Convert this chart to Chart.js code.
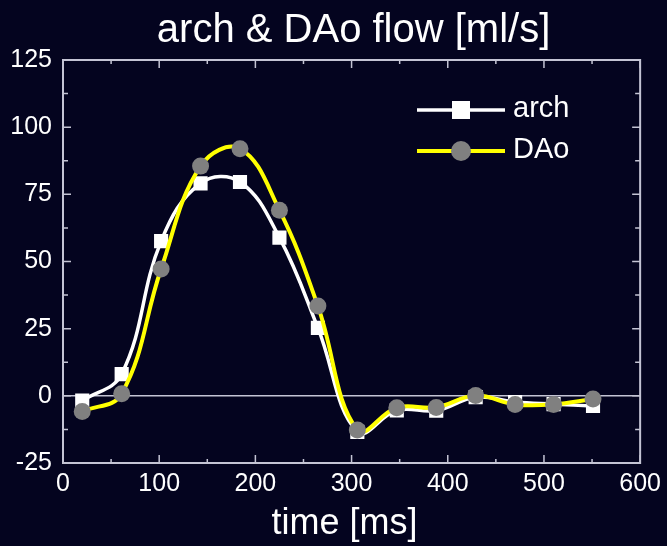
<!DOCTYPE html>
<html>
<head>
<meta charset="utf-8">
<script src="https://cdn.jsdelivr.net/npm/chart.js@4.4.1/dist/chart.umd.min.js"></script>
<style>
  html, body { margin: 0; padding: 0; background: #04041f; }
  #wrap { width: 667px; height: 546px; }
</style>
</head>
<body>
<div id="wrap"><canvas id="myChart" width="667" height="546"></canvas></div>
<script>
// time points [ms]
const times = [20, 61, 102, 143, 184, 225, 265, 306, 347, 388, 429, 470, 510, 551];
// flow [ml/s]
const archFlow = [-1.8, 8.1, 57.6, 79.1, 79.6, 58.9, 25.3, -13.4, -5.4, -5.5, -0.5, -2.3, -3.1, -3.8];
const daoFlow  = [-5.8, 0.8, 47.2, 85.5, 92.0, 69.1, 33.4, -12.7, -4.4, -4.3, 0.1, -3.2, -3.2, -1.2];
const xTicks = [0, 100, 200, 300, 400, 500, 600];
const yTicks = [-25, 0, 25, 50, 75, 100, 125];
const chartTitle = 'arch & DAo flow [ml/s]';
const xTitle = 'time [ms]';

const fontFamily = "'Liberation Sans', Arial, sans-serif";
const axisColor = '#c4c4d4';

const toPoints = (ys) => times.map((t, i) => ({ x: t, y: ys[i] }));

const bgPlugin = {
  id: 'bg',
  beforeDraw(chart) {
    const ctx = chart.ctx;
    ctx.save();
    ctx.fillStyle = '#04041f';
    ctx.fillRect(0, 0, chart.width, chart.height);
    ctx.restore();
  }
};

// frame, inward ticks (mirrored), zero line and the titles
const framePlugin = {
  id: 'frame',
  beforeDatasetsDraw(chart) {
    const { ctx, chartArea: a, scales: { x, y } } = chart;
    ctx.save();
    ctx.strokeStyle = axisColor;
    ctx.lineWidth = 1.5;
    const y0 = y.getPixelForValue(0);
    ctx.beginPath();
    ctx.moveTo(a.left, y0);
    ctx.lineTo(a.right, y0);
    ctx.stroke();

    ctx.lineWidth = 2;
    ctx.strokeRect(a.left, a.top, a.right - a.left, a.bottom - a.top);
    ctx.lineWidth = 1.5;
    for (let v = 0; v <= 600; v += 50) {
      const px = x.getPixelForValue(v);
      const len = v % 100 === 0 ? 8 : 4;
      ctx.beginPath();
      ctx.moveTo(px, a.bottom); ctx.lineTo(px, a.bottom - len);
      ctx.moveTo(px, a.top); ctx.lineTo(px, a.top + len);
      ctx.stroke();
    }
    for (let v = -25; v <= 125; v += 12.5) {
      const py = y.getPixelForValue(v);
      const len = v % 25 === 0 ? 8 : 5;
      ctx.beginPath();
      ctx.moveTo(a.left, py); ctx.lineTo(a.left + len, py);
      ctx.moveTo(a.right, py); ctx.lineTo(a.right - len, py);
      ctx.stroke();
    }

    ctx.fillStyle = '#ffffff';
    ctx.textAlign = 'center';
    ctx.textBaseline = 'middle';
    ctx.font = '40px ' + fontFamily;
    ctx.fillText(chartTitle, (a.left + a.right) / 2 + 2, 31);
    ctx.font = '36px ' + fontFamily;
    ctx.fillText(xTitle, (a.left + a.right) / 2 - 7, 524);
    ctx.restore();
  }
};

// legend in the Origin style: line with a marker in the middle
const legendPlugin = {
  id: 'originLegend',
  afterDatasetsDraw(chart) {
    const ctx = chart.ctx;
    const items = [
      { label: 'arch', color: '#ffffff', lw: 3.5, y: 110, marker: 'rect', fill: '#ffffff' },
      { label: 'DAo', color: '#ffff00', lw: 4, y: 151, marker: 'circle', fill: '#808080' }
    ];
    ctx.save();
    items.forEach((it) => {
      ctx.strokeStyle = it.color;
      ctx.lineWidth = it.lw;
      ctx.beginPath();
      ctx.moveTo(417, it.y);
      ctx.lineTo(505, it.y);
      ctx.stroke();
      ctx.fillStyle = it.fill;
      if (it.marker === 'rect') {
        ctx.fillRect(452, it.y - 9, 18, 18);
      } else {
        ctx.beginPath();
        ctx.arc(461, it.y, 10, 0, Math.PI * 2);
        ctx.fill();
      }
      ctx.fillStyle = '#ffffff';
      ctx.font = '29px ' + fontFamily;
      ctx.textBaseline = 'middle';
      ctx.textAlign = 'left';
      ctx.fillText(it.label, 513, it.y - 1);
    });
    ctx.restore();
  }
};

const config = {
  type: 'line',
  data: {
    datasets: [
      {
        label: 'arch',
        data: toPoints(archFlow),
        borderColor: '#ffffff',
        borderWidth: 3.5,
        tension: 0.4,
        pointStyle: 'rect',
        pointRadius: 10,
        pointBackgroundColor: '#ffffff',
        pointBorderWidth: 0,
        order: 1
      },
      {
        label: 'DAo',
        data: toPoints(daoFlow),
        borderColor: '#ffff00',
        borderWidth: 4,
        tension: 0.4,
        pointStyle: 'circle',
        pointRadius: 8.5,
        pointBackgroundColor: '#808080',
        pointBorderWidth: 0,
        order: 0
      }
    ]
  },
  options: {
    responsive: false,
    animation: false,
    layout: { padding: { right: 24, left: 0, top: 60, bottom: 0 } },
    plugins: {
      legend: { display: false },
      tooltip: { enabled: false },
      title: { display: false }
    },
    scales: {
      x: {
        type: 'linear',
        min: 0,
        max: 600,
        afterBuildTicks: (s) => { s.ticks = xTicks.map((v) => ({ value: v })); },
        afterFit: (s) => { s.height = 83; },
        grid: { display: false, drawTicks: false },
        border: { display: false },
        ticks: { color: '#ffffff', padding: 6, font: { family: fontFamily, size: 25 }, maxRotation: 0 }
      },
      y: {
        min: -25,
        max: 125,
        afterBuildTicks: (s) => { s.ticks = yTicks.map((v) => ({ value: v })); },
        afterFit: (s) => { s.width = 63; },
        grid: { display: false, drawTicks: false },
        border: { display: false },
        ticks: { color: '#ffffff', padding: 11, font: { family: fontFamily, size: 25 } }
      }
    }
  },
  plugins: [bgPlugin, framePlugin, legendPlugin]
};

new Chart(document.getElementById('myChart'), config);
</script>
</body>
</html>
